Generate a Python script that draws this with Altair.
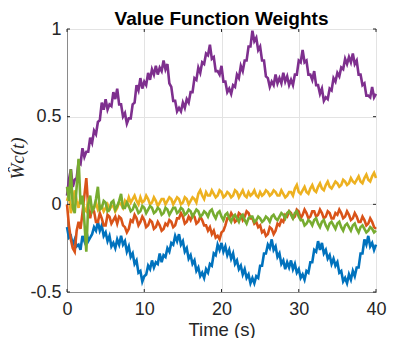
import altair as alt
import pandas as pd

t = [i * 0.25 for i in range(161)]

blue = [-0.13, -0.19, -0.18, -0.23, -0.20, -0.24, -0.23, -0.26, -0.18, -0.21,
        -0.15, -0.21, -0.19, -0.17, -0.13, -0.15, -0.10, -0.15, -0.12, -0.18,
        -0.16, -0.21, -0.18, -0.24, -0.22, -0.25, -0.20, -0.23, -0.18, -0.23,
        -0.21, -0.27, -0.24, -0.30, -0.28, -0.34, -0.32, -0.39, -0.38, -0.44,
        -0.41, -0.40, -0.35, -0.37, -0.32, -0.36, -0.33, -0.34, -0.28, -0.33,
        -0.29, -0.30, -0.25, -0.27, -0.22, -0.23, -0.18, -0.21, -0.17, -0.23,
        -0.21, -0.27, -0.25, -0.31, -0.29, -0.34, -0.32, -0.38, -0.36, -0.41,
        -0.39, -0.42, -0.37, -0.39, -0.34, -0.35, -0.28, -0.29, -0.23, -0.26,
        -0.22, -0.27, -0.24, -0.29, -0.26, -0.31, -0.28, -0.34, -0.32, -0.37,
        -0.35, -0.40, -0.37, -0.42, -0.40, -0.45, -0.42, -0.45, -0.41, -0.42,
        -0.35, -0.35, -0.28, -0.28, -0.23, -0.25, -0.20, -0.26, -0.24, -0.30,
        -0.28, -0.34, -0.32, -0.37, -0.33, -0.36, -0.32, -0.37, -0.34, -0.39,
        -0.37, -0.42, -0.40, -0.43, -0.38, -0.39, -0.33, -0.33, -0.26, -0.27,
        -0.21, -0.26, -0.22, -0.28, -0.26, -0.31, -0.29, -0.34, -0.31, -0.35,
        -0.33, -0.39, -0.38, -0.44, -0.42, -0.45, -0.40, -0.43, -0.38, -0.41,
        -0.36, -0.36, -0.28, -0.28, -0.20, -0.23, -0.18, -0.24, -0.22, -0.26,
        -0.23]

orange = [0.00, -0.12, -0.20, -0.25, -0.27, -0.15, -0.10, -0.14, -0.05, 0.05,
          0.15, -0.02, -0.08, -0.02, -0.04, -0.10, -0.10, -0.05, -0.08, -0.12,
          -0.12, -0.06, -0.07, -0.11, -0.09, -0.07, -0.11, -0.07, -0.08, -0.12,
          -0.13, -0.16, -0.14, -0.09, -0.10, -0.06, -0.08, -0.12, -0.10, -0.07,
          -0.09, -0.13, -0.12, -0.09, -0.10, -0.14, -0.13, -0.10, -0.12, -0.15,
          -0.14, -0.11, -0.12, -0.09, -0.10, -0.13, -0.12, -0.08, -0.08, -0.05,
          -0.07, -0.11, -0.10, -0.07, -0.09, -0.06, -0.07, -0.11, -0.10, -0.07,
          -0.09, -0.12, -0.12, -0.15, -0.13, -0.17, -0.15, -0.19, -0.18, -0.20,
          -0.16, -0.15, -0.12, -0.08, -0.08, -0.05, -0.07, -0.10, -0.09, -0.05,
          -0.06, -0.09, -0.07, -0.04, -0.05, -0.08, -0.08, -0.11, -0.10, -0.13,
          -0.12, -0.16, -0.15, -0.18, -0.17, -0.13, -0.14, -0.17, -0.15, -0.11,
          -0.12, -0.09, -0.10, -0.06, -0.07, -0.04, -0.05, -0.08, -0.07, -0.03,
          -0.04, -0.08, -0.06, -0.03, -0.05, -0.08, -0.07, -0.04, -0.04, -0.07,
          -0.06, -0.03, -0.05, -0.08, -0.07, -0.04, -0.05, -0.08, -0.08, -0.05,
          -0.06, -0.03, -0.05, -0.08, -0.07, -0.04, -0.06, -0.09, -0.08, -0.05,
          -0.07, -0.10, -0.10, -0.07, -0.09, -0.12, -0.11, -0.08, -0.10, -0.13,
          -0.14]

yellow = [0.02, 0.06, -0.05, 0.00, 0.08, 0.02, -0.02, 0.04, 0.03, -0.03,
          -0.04, 0.02, 0.00, -0.03, -0.02, 0.01, -0.03, -0.01, -0.01, -0.04,
          -0.02, 0.00, -0.03, -0.01, -0.01, -0.04, -0.02, 0.01, 0.00, -0.02,
          0.02, 0.00, 0.04, 0.01, 0.03, 0.05, 0.02, 0.00, 0.04, 0.01,
          0.02, 0.05, 0.03, 0.00, 0.01, 0.04, 0.02, -0.01, 0.01, 0.03,
          0.03, 0.00, 0.02, 0.04, 0.03, 0.00, 0.02, 0.04, 0.03, 0.00,
          0.01, 0.04, 0.03, 0.00, 0.02, 0.04, 0.03, 0.01, 0.06, 0.08,
          0.05, 0.03, 0.07, 0.05, 0.05, 0.08, 0.06, 0.04, 0.05, 0.08,
          0.07, 0.04, 0.05, 0.07, 0.06, 0.04, 0.05, 0.08, 0.07, 0.04,
          0.06, 0.08, 0.05, 0.04, 0.07, 0.05, 0.06, 0.08, 0.05, 0.04,
          0.07, 0.05, 0.06, 0.08, 0.07, 0.05, 0.06, 0.08, 0.07, 0.05,
          0.05, 0.08, 0.06, 0.04, 0.05, 0.07, 0.07, 0.05, 0.09, 0.11,
          0.07, 0.06, 0.08, 0.10, 0.07, 0.06, 0.09, 0.11, 0.08, 0.07,
          0.10, 0.12, 0.09, 0.08, 0.11, 0.13, 0.10, 0.09, 0.11, 0.13,
          0.12, 0.10, 0.11, 0.14, 0.13, 0.11, 0.12, 0.15, 0.13, 0.12,
          0.14, 0.16, 0.13, 0.12, 0.15, 0.17, 0.14, 0.13, 0.16, 0.18,
          0.15]

purple = [0.05, 0.14, 0.20, 0.10, 0.14, 0.15, 0.24, 0.23, 0.32, 0.27,
          0.30, 0.30, 0.38, 0.35, 0.42, 0.40, 0.47, 0.48, 0.58, 0.54,
          0.60, 0.54, 0.57, 0.56, 0.64, 0.60, 0.66, 0.57, 0.57, 0.50,
          0.52, 0.46, 0.49, 0.49, 0.57, 0.58, 0.68, 0.65, 0.72, 0.66,
          0.70, 0.68, 0.75, 0.71, 0.77, 0.74, 0.79, 0.74, 0.78, 0.76,
          0.82, 0.77, 0.80, 0.69, 0.67, 0.59, 0.59, 0.53, 0.55, 0.53,
          0.58, 0.55, 0.60, 0.58, 0.64, 0.64, 0.72, 0.71, 0.78, 0.75,
          0.81, 0.80, 0.86, 0.85, 0.91, 0.83, 0.84, 0.76, 0.76, 0.74,
          0.79, 0.70, 0.70, 0.64, 0.66, 0.63, 0.68, 0.67, 0.74, 0.72,
          0.79, 0.76, 0.82, 0.82, 0.90, 0.90, 0.99, 0.93, 0.95, 0.88,
          0.90, 0.82, 0.82, 0.73, 0.72, 0.67, 0.70, 0.68, 0.74, 0.69,
          0.72, 0.69, 0.75, 0.70, 0.73, 0.68, 0.71, 0.68, 0.74, 0.74,
          0.82, 0.81, 0.88, 0.81, 0.82, 0.74, 0.74, 0.71, 0.76, 0.68,
          0.68, 0.63, 0.66, 0.59, 0.61, 0.60, 0.66, 0.65, 0.72, 0.70,
          0.75, 0.73, 0.78, 0.77, 0.83, 0.80, 0.84, 0.81, 0.86, 0.80,
          0.82, 0.74, 0.74, 0.68, 0.69, 0.62, 0.62, 0.61, 0.67, 0.61,
          0.63]

green = [0.10, 0.02, 0.20, -0.02, -0.05, 0.10, 0.26, 0.00, 0.05, -0.10,
         -0.27, 0.00, 0.05, -0.04, -0.02, 0.03, 0.10, -0.03, -0.02, 0.02,
         0.01, -0.04, -0.03, 0.01, 0.02, -0.03, -0.01, 0.02, 0.06, -0.02,
         -0.02, 0.01, -0.01, -0.04, -0.03, 0.00, -0.02, -0.05, -0.04, -0.01,
         -0.02, -0.05, -0.03, -0.01, -0.02, -0.05, -0.04, -0.02, -0.03, -0.06,
         -0.05, -0.02, -0.03, -0.06, -0.04, -0.02, -0.02, -0.05, -0.04, -0.02,
         -0.03, -0.06, -0.05, -0.03, -0.04, -0.07, -0.05, -0.03, -0.04, -0.07,
         -0.06, -0.04, -0.05, -0.07, -0.04, -0.03, -0.06, -0.08, -0.05, -0.04,
         -0.07, -0.09, -0.06, -0.05, -0.08, -0.10, -0.07, -0.06, -0.08, -0.10,
         -0.07, -0.06, -0.09, -0.11, -0.08, -0.07, -0.07, -0.10, -0.09, -0.07,
         -0.08, -0.10, -0.09, -0.07, -0.08, -0.10, -0.07, -0.06, -0.08, -0.09,
         -0.07, -0.05, -0.06, -0.08, -0.05, -0.04, -0.06, -0.08, -0.05, -0.04,
         -0.07, -0.09, -0.09, -0.12, -0.11, -0.09, -0.10, -0.12, -0.09, -0.08,
         -0.11, -0.13, -0.10, -0.09, -0.12, -0.14, -0.11, -0.10, -0.12, -0.14,
         -0.11, -0.10, -0.13, -0.15, -0.12, -0.11, -0.13, -0.15, -0.12, -0.11,
         -0.14, -0.16, -0.13, -0.12, -0.14, -0.16, -0.15, -0.13, -0.14, -0.16,
         -0.15]

series = [("w1", blue, "#0072BD"), ("w2", orange, "#D95319"),
          ("w3", yellow, "#EDB120"), ("w4", purple, "#7E2F8E"),
          ("w5", green, "#77AC30")]

x_ticks = [0, 10, 20, 30, 40]
y_ticks = [-0.5, 0, 0.5, 1]
x_min, x_max = 0, 40
y_min, y_max = -0.5, 1

x_scale = alt.Scale(domain=[x_min, x_max], nice=False, zero=False)
y_scale = alt.Scale(domain=[y_min, y_max], nice=False, zero=False)

x_axis = alt.Axis(values=x_ticks, title="Time (s)", grid=True,
                  ticks=False, labelPadding=8, titlePadding=2,
                  labelFontSize=18, titleFontSize=18.5, labelFlush=False)
y_axis = alt.Axis(values=y_ticks, title="Ŵc(t)", grid=True,
                  ticks=False, labelPadding=6, labelFontSize=18,
                  labelExpr="toString(datum.value)", labelFlush=False,
                  titleFont="Liberation Serif", titleFontStyle="italic",
                  titleFontWeight="normal", titleFontSize=19,
                  titleAngle=270, titleX=-50, titleY=129,
                  titleAlign="center", titleBaseline="middle")


def X(f):
    return alt.X(f, scale=x_scale, axis=x_axis)


def Y(f):
    return alt.Y(f, scale=y_scale, axis=y_axis)


layers = []
for name, vals, col in series:
    df = pd.DataFrame({"t": t, "w": vals})
    layers.append(
        alt.Chart(df).mark_line(color=col, strokeWidth=2.6).encode(
            x=X("t:Q"), y=Y("w:Q"))
    )

# inward tick marks on all four sides (MATLAB box style)
tick_len_y = 0.017
tick_len_x = 0.39
xt = pd.DataFrame({"v": x_ticks * 2,
                   "a": [y_min] * 5 + [y_max] * 5,
                   "b": [y_min + tick_len_y] * 5 + [y_max - tick_len_y] * 5})
yt = pd.DataFrame({"v": y_ticks * 2,
                   "a": [x_min] * 4 + [x_max] * 4,
                   "b": [x_min + tick_len_x] * 4 + [x_max - tick_len_x] * 4})
tick_x = alt.Chart(xt).mark_rule(color="#262626", strokeWidth=1).encode(
    x=X("v:Q"), y=Y("a:Q"), y2="b:Q")
tick_y = alt.Chart(yt).mark_rule(color="#262626", strokeWidth=1).encode(
    y=Y("v:Q"), x=X("a:Q"), x2="b:Q")

chart = alt.layer(*layers, tick_x, tick_y).properties(
    width=309, height=263,
    title=alt.TitleParams("Value Function Weights", fontSize=19,
                          fontWeight="bold", font="Liberation Sans",
                          offset=-9, anchor="middle", color="black"),
    autosize=alt.AutoSizeParams(type="none"),
    padding={"left": 59, "top": 21, "right": 31, "bottom": 46},
).configure_axis(
    labelFont="Liberation Sans", titleFont="Liberation Sans",
    labelColor="#262626", titleColor="#262626", titleFontWeight="normal",
    domainColor="#8a8a8a", gridColor="#e3e3e3", gridWidth=1,
).configure_view(stroke="#3a3a3a", strokeWidth=1)

chart.save("out.html", embed_options={"renderer": "svg", "actions": False})
